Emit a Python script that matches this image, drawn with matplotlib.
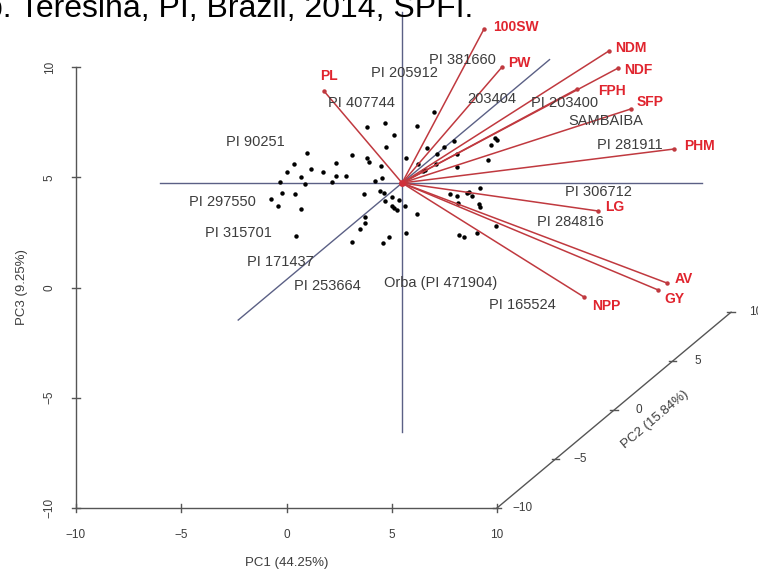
import matplotlib
matplotlib.use("Agg")
import matplotlib.pyplot as plt
import numpy as np

plt.rcParams['font.family'] = ['Liberation Sans', 'DejaVu Sans']

# genotype scores, read in the PC1 / PC3 plane of the 3d view
geno_x = [7.02, 3.84, 4.69, 6.19, 5.11, 4.73, 0.99, 3.13, 3.81, 3.90, 2.35, 0.34,
          1.18, 1.75, 0.02, 0.67, 2.34, 2.83, 0.88, -0.31, 2.18, 4.49, 4.52, 4.20,
          5.68, 6.25, 6.69, 7.16, 7.47, 7.97, 8.10, 7.09, 6.48, 6.58, 8.09, 9.56,
          9.73, 9.90, 9.99, -0.20, 0.42, -0.75, -0.42, 0.69, 3.67, 4.44, 4.63, 5.00,
          4.69, 5.34, 5.63, 5.00, 5.12, 5.25, 6.19, 3.71, 3.73, 3.49, 0.47, 3.10,
          4.86, 4.60, 5.66, 7.77, 8.09, 8.13, 8.56, 8.67, 8.81, 9.19, 9.14, 9.19,
          9.95, 8.21, 8.43, 9.04]
geno_z = [7.97, 7.27, 7.45, 7.32, 6.92, 6.39, 6.11, 6.01, 5.89, 5.71, 5.66, 5.59,
          5.36, 5.24, 5.25, 5.02, 5.06, 5.06, 4.69, 4.77, 4.80, 5.51, 4.98, 4.84,
          5.86, 5.60, 6.34, 6.05, 6.39, 6.64, 6.04, 5.59, 5.28, 5.32, 5.48, 5.78,
          6.46, 6.79, 6.69, 4.30, 4.24, 4.01, 3.71, 3.55, 4.24, 4.38, 4.30, 4.12,
          3.94, 3.97, 3.71, 3.70, 3.62, 3.51, 3.32, 3.18, 2.94, 2.65, 2.34, 2.08,
          2.28, 2.03, 2.46, 4.23, 4.15, 3.85, 4.27, 4.34, 4.15, 4.53, 3.77, 3.64,
          2.80, 2.38, 2.28, 2.46]

geno_names = ['PI 407744', 'PI 205912', 'PI 381660', '203404', 'PI 203400',
              'SAMBAIBA', 'PI 281911', 'PI 306712', 'PI 284816', 'Orba (PI 471904)',
              'PI 165524', 'PI 90251', 'PI 297550', 'PI 315701', 'PI 171437',
              'PI 253664']
name_x = [3.54, 5.58, 8.34, 9.76, 13.23, 15.18, 16.32, 14.80, 13.47, 7.34,
          11.19, -1.50, -3.02, -2.26, -0.31, 1.92]
name_z = [8.37, 9.73, 10.32, 8.55, 8.37, 7.55, 6.46, 4.33, 2.97, 0.20,
          -0.79, 6.60, 3.88, 2.47, 1.16, 0.07]

# trait vectors (tips) and their labels
trait_names = ['PL', '100SW', 'PW', 'NDM', 'NDF', 'FPH', 'SFP', 'PHM',
               'LG', 'AV', 'GY', 'NPP']
trait_x = [1.78, 9.38, 10.24, 15.32, 15.75, 13.80, 16.37, 18.41,
           14.80, 18.08, 17.65, 14.13]
trait_z = [8.91, 11.72, 10.00, 10.73, 9.95, 9.00, 8.10, 6.28,
           3.47, 0.20, -0.11, -0.43]
trait_lab_x = [2.02, 10.90, 11.05, 16.37, 16.70, 15.46, 17.27, 19.64,
               15.61, 18.88, 18.41, 15.18]
trait_lab_z = [9.59, 11.81, 10.18, 10.86, 9.86, 8.91, 8.41, 6.42,
               3.65, 0.39, -0.52, -0.84]

center_x, center_z = 5.49, 4.74
ticks = [-10, -5, 0, 5, 10]

# scatterplot3d style projection of the PC2 axis
KX, KZ = 0.556, 0.444


def proj_pc2(v):
    return 10 + (v + 10) * KX, -10 + (v + 10) * KZ


fig = plt.figure(figsize=(7.58, 5.71), dpi=100)
ax = fig.add_axes([0, 0, 1, 1])
ax.set_xlim(-10 - 76 / 21.05, -10 + 682 / 21.05)
ax.set_ylim(10 - 504 / 22.05, 10 + 67 / 22.05)
ax.axis('off')

axis_col = '#555555'
txt_col = '#3c3c3c'

# box axes
ax.plot([-10, -10], [-10, 10], color=axis_col, lw=1)
ax.plot([-10, 10], [-10, -10], color=axis_col, lw=1)
p0 = proj_pc2(-10)
p1 = proj_pc2(10)
ax.plot([p0[0], p1[0]], [p0[1], p1[1]], color=axis_col, lw=1)

for t in ticks:
    ax.plot([-10.19, -9.81], [t, t], color=axis_col, lw=1)
    ax.text(-11.24, t, str(t).replace('-', '\u2212'), rotation=90, ha='center',
            va='center', fontsize=8.5, color=txt_col)
    ax.plot([t, t], [-10.18, -9.82], color=axis_col, lw=1)
    ax.text(t, -11.22, str(t).replace('-', '\u2212'), ha='center', va='center',
            fontsize=8.5, color=txt_col)
    px, pz = proj_pc2(t)
    ax.plot([px - 0.17, px + 0.17], [pz, pz], color=axis_col, lw=1)
    ax.text(px + 1.19, pz, str(t).replace('-', '\u2212'), ha='center', va='center',
            fontsize=8.5, color=txt_col)

ax.text(0.02, -12.49, 'PC1 (44.25%)', ha='center', va='center', fontsize=9.5,
        color=txt_col)
ax.text(-12.57, 0.02, 'PC3 (9.25%)', rotation=90, ha='center', va='center',
        fontsize=9.5, color=txt_col)
ax.text(17.51, -6.01, 'PC2 (15.84%)', rotation=40, ha='center', va='center',
        fontsize=9.5, color=txt_col, rotation_mode='anchor')

# axes through the centre
line_col = '#5b6085'
ax.plot([-6.01, 19.74], [center_z, center_z], color=line_col, lw=1)
ax.plot([center_x, center_x], [-6.55, 12.49], color=line_col, lw=1)
tt = np.array([-14.0, 12.6])
ax.plot(center_x + tt * KX, center_z + tt * KZ, color=line_col, lw=1)

# genotypes
ax.plot(geno_x, geno_z, 'o', color='black', ms=3.2, mec='none')
for n, x, z in zip(geno_names, name_x, name_z):
    ax.text(x, z, n, ha='center', va='center', fontsize=10.5, color=txt_col)

# trait vectors
vec_col = '#c0393f'
for n, x, z, lx, lz in zip(trait_names, trait_x, trait_z, trait_lab_x, trait_lab_z):
    ax.plot([center_x, x], [center_z, z], color=vec_col, lw=1.1)
    ax.plot([x], [z], 'o', color=vec_col, ms=3.2, mec='none')
    ax.text(lx, lz, n, ha='center', va='center', fontsize=10, fontweight='bold',
            color='#e0242e')
ax.plot([center_x], [center_z], 'o', color='#d0303a', ms=5, mec='none')

fig.text(-15 / 758, 1 - 17 / 571, 'b. Teresina, PI, Brazil, 2014, SPFI.',
         ha='left', va='baseline', fontsize=23, color='black')

fig.savefig('out.png', dpi=100, facecolor='white')
